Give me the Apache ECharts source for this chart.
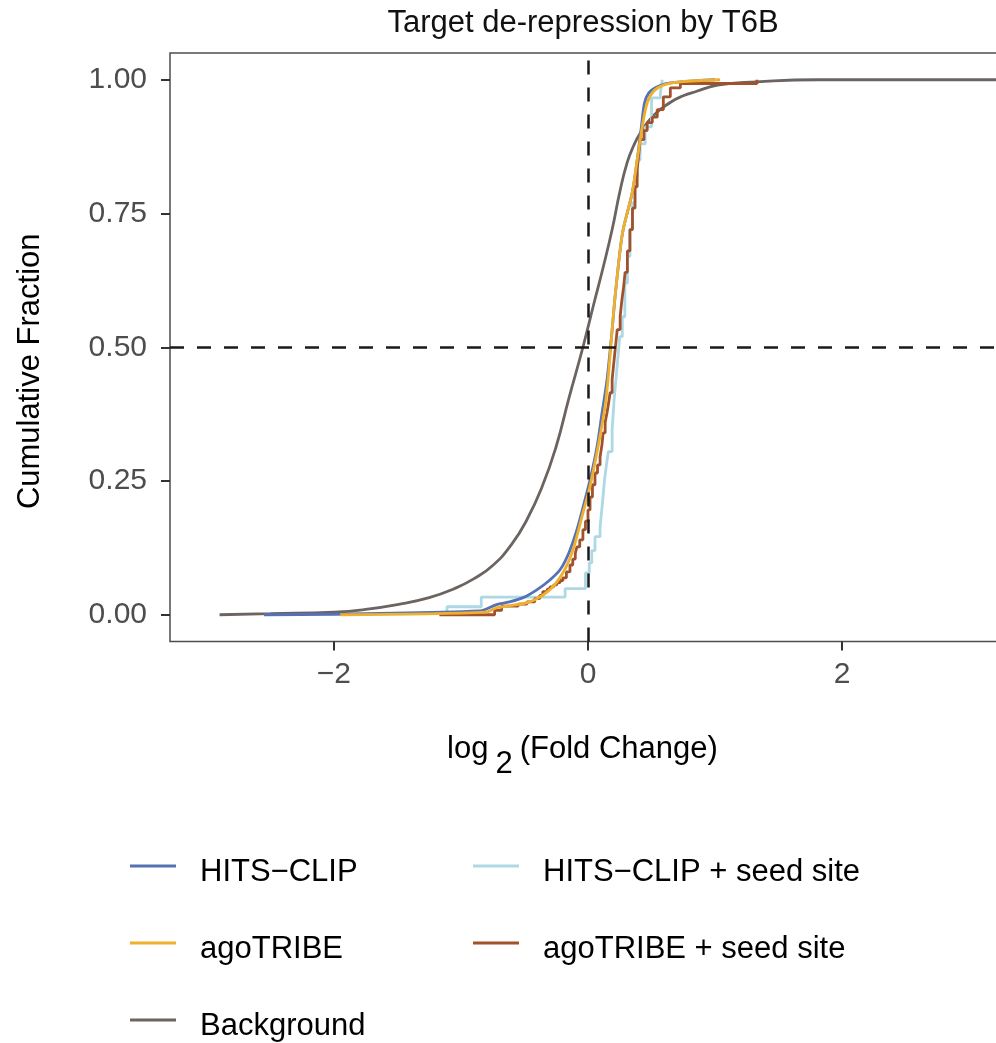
<!DOCTYPE html>
<html>
<head>
<meta charset="utf-8">
<script src="https://cdn.jsdelivr.net/npm/echarts@6/dist/echarts.min.js"></script>
<style>
  html, body { margin: 0; padding: 0; background: #fff; }
  #chart { width: 996px; height: 1043px; }
</style>
</head>
<body>
<div id="chart"></div>
<script>
// ECDF curves: x = log2 fold change, y = cumulative fraction
const hitsClipX = [-2.55, -0.85, -0.72, -0.62, -0.51, -0.40, -0.30, -0.22, -0.15, -0.087, -0.04, 0.016, 0.071, 0.111, 0.15, 0.19, 0.213, 0.253, 0.277, 0.348, 0.387, 0.42, 0.445, 0.48, 0.53, 0.60, 0.727, 1.0];
const hitsClipY = [0, 0.007, 0.019, 0.024, 0.032, 0.047, 0.065, 0.084, 0.116, 0.159, 0.20, 0.252, 0.314, 0.378, 0.44, 0.533, 0.594, 0.682, 0.72, 0.789, 0.85, 0.912, 0.957, 0.976, 0.985, 0.992, 0.996, 1.0];

const agoTribeX = [-1.95, -0.80, -0.72, -0.46, -0.30, -0.198, -0.12, -0.04, 0.016, 0.079, 0.134, 0.158, 0.19, 0.213, 0.253, 0.277, 0.348, 0.387, 0.427, 0.466, 0.514, 0.593, 0.727, 1.04];
const agoTribeY = [0, 0.005, 0.013, 0.024, 0.047, 0.078, 0.12, 0.19, 0.24, 0.314, 0.389, 0.44, 0.533, 0.594, 0.682, 0.72, 0.789, 0.85, 0.912, 0.957, 0.978, 0.99, 0.996, 1.0];

const backgroundX = [-2.9, -2.5, -2.0, -1.75, -1.5, -1.25, -1.05, -0.9, -0.75, -0.6, -0.48, -0.36, -0.25, -0.15, -0.04, 0.05, 0.12, 0.19, 0.25, 0.308, 0.36, 0.411, 0.51, 0.65, 0.75, 0.85, 1.02, 1.33, 1.8, 3.4];
const backgroundY = [0, 0.002, 0.005, 0.010, 0.019, 0.032, 0.049, 0.067, 0.092, 0.132, 0.178, 0.240, 0.315, 0.405, 0.50, 0.585, 0.65, 0.72, 0.79, 0.845, 0.877, 0.90, 0.932, 0.958, 0.97, 0.978, 0.99, 0.996, 1.0, 1.0];

const hitsSeedX = [-1.11, -1.11, -0.84, -0.18, -0.02, 0.01, 0.03, 0.055, 0.095, 0.11, 0.12, 0.13, 0.145, 0.16, 0.19, 0.205, 0.22, 0.235, 0.25, 0.27, 0.29, 0.31, 0.33, 0.35, 0.37, 0.39, 0.41, 0.45, 0.50, 0.57, 0.585];
const hitsSeedY = [0, 0.015, 0.033, 0.049, 0.078, 0.097, 0.12, 0.146, 0.164, 0.20, 0.225, 0.252, 0.28, 0.305, 0.346, 0.40, 0.44, 0.48, 0.52, 0.557, 0.62, 0.67, 0.72, 0.77, 0.82, 0.85, 0.88, 0.912, 0.966, 0.976, 1.0];

const tribeSeedX = [-1.17, -0.735, -0.68, -0.55, -0.48, -0.42, -0.38, -0.356, -0.32, -0.30, -0.27, -0.245, -0.22, -0.198, -0.17, -0.142, -0.12, -0.10, -0.087, -0.065, -0.04, -0.02, 0.0, 0.016, 0.035, 0.055, 0.075, 0.095, 0.11, 0.119, 0.135, 0.15, 0.163, 0.174, 0.19, 0.205, 0.218, 0.23, 0.253, 0.265, 0.28, 0.292, 0.31, 0.33, 0.35, 0.37, 0.387, 0.40, 0.411, 0.44, 0.466, 0.506, 0.545, 0.593, 0.648, 0.727, 1.33];
const tribeSeedY = [0, 0.008, 0.016, 0.020, 0.024, 0.030, 0.036, 0.043, 0.048, 0.052, 0.056, 0.060, 0.064, 0.069, 0.080, 0.093, 0.104, 0.115, 0.127, 0.140, 0.159, 0.175, 0.196, 0.22, 0.243, 0.265, 0.28, 0.295, 0.318, 0.34, 0.36, 0.378, 0.397, 0.415, 0.44, 0.475, 0.505, 0.533, 0.557, 0.585, 0.612, 0.64, 0.68, 0.72, 0.76, 0.80, 0.832, 0.862, 0.888, 0.905, 0.92, 0.93, 0.944, 0.968, 0.985, 0.993, 1.0];

const xTicks = [-2, 0, 2];
const yTicks = [0, 0.25, 0.5, 0.75, 1];

const MINUS = '\u2212';
const FONT = 'Liberation Sans, Arial, Helvetica, sans-serif';

function pts(xs, ys) {
    return xs.map((x, i) => [x, ys[i]]);
}

const chart = echarts.init(document.getElementById('chart'), null, { renderer: 'canvas' });

const lineBase = { type: 'line', showSymbol: false, symbol: 'none', silent: true, animation: false };

function legendBlock(names, left) {
    return {
        data: names,
        orient: 'vertical', left: left, top: 844, padding: 0,
        itemWidth: 46, itemHeight: 3, itemGap: 33, icon: 'rect',
        selectedMode: false,
        formatter: '{t|{name}}',
        textStyle: {
            rich: { t: { fontFamily: FONT, fontSize: 31, color: '#000', lineHeight: 30, padding: [13, 0, 0, 19] } }
        }
    };
}

chart.setOption({
    backgroundColor: '#fff',
    animation: false,
    title: {
        text: 'Target de-repression by T6B',
        left: 583,
        top: 8,
        textAlign: 'center',
        padding: 0,
        textStyle: { fontFamily: FONT, fontSize: 31, fontWeight: 'normal', color: '#111' }
    },
    grid: {
        left: 170, top: 53, width: 836, height: 588.5,
        show: true, borderColor: '#4d4d4d', borderWidth: 1.5,
        containLabel: false, outerBoundsMode: 'none'
    },
    legend: [
        legendBlock(['HITS' + MINUS + 'CLIP', 'agoTRIBE', 'Background'], 130),
        legendBlock(['HITS' + MINUS + 'CLIP + seed site', 'agoTRIBE + seed site'], 473)
    ],
    xAxis: {
        type: 'value', min: -3.29, max: 3.29,
        name: '{n|log}{s|2}{e|(Fold Change)}',
        nameLocation: 'middle', nameGap: 92,
        nameTextStyle: {
            rich: {
                n: { fontFamily: FONT, fontSize: 31, color: '#000', verticalAlign: 'top', lineHeight: 30 },
                s: { fontFamily: FONT, fontSize: 31, color: '#000', verticalAlign: 'top', lineHeight: 30, padding: [15, 7, 0, 7] },
                e: { fontFamily: FONT, fontSize: 31, color: '#000', verticalAlign: 'top', lineHeight: 30, padding: [0, 11, 0, 0] }
            }
        },
        axisLine: { show: false, onZero: false },
        splitLine: { show: false },
        axisTick: { show: true, length: 9, customValues: xTicks, lineStyle: { color: '#333', width: 2 } },
        axisLabel: {
            customValues: xTicks, margin: 18,
            fontFamily: FONT, fontSize: 30, color: '#4d4d4d',
            formatter: v => (v < 0 ? MINUS + Math.abs(v) : String(v))
        }
    },
    yAxis: {
        type: 'value', min: -0.05, max: 1.05,
        name: 'Cumulative Fraction',
        nameLocation: 'middle', nameGap: 124, nameRotate: 90,
        nameTextStyle: { fontFamily: FONT, fontSize: 31, color: '#000', padding: [0, 48, 0, 0] },
        axisLine: { show: false, onZero: false },
        splitLine: { show: false },
        axisTick: { show: true, length: 9, customValues: yTicks, lineStyle: { color: '#333', width: 2 } },
        axisLabel: {
            customValues: yTicks, margin: 23,
            fontFamily: FONT, fontSize: 30, color: '#4d4d4d',
            formatter: v => v.toFixed(2)
        }
    },
    series: [
        Object.assign({}, lineBase, {
            name: 'Background', data: pts(backgroundX, backgroundY),
            smooth: 0.5,
            itemStyle: { color: '#6b6460' }, lineStyle: { width: 2.8, color: '#6b6460' },
            markLine: {
                silent: true, symbol: 'none', animation: false,
                label: { show: false },
                lineStyle: { color: '#1a1a1a', width: 2.5, type: [14, 13] },
                data: [{ xAxis: 0 }, { yAxis: 0.5 }]
            }
        }),
        Object.assign({}, lineBase, {
            name: 'HITS' + MINUS + 'CLIP + seed site', data: pts(hitsSeedX, hitsSeedY), step: 'end',
            itemStyle: { color: '#add8e6' }, lineStyle: { width: 2.8, color: '#add8e6' }
        }),
        Object.assign({}, lineBase, {
            name: 'HITS' + MINUS + 'CLIP', data: pts(hitsClipX, hitsClipY),
            smooth: 0.3,
            itemStyle: { color: '#5572b6' }, lineStyle: { width: 2.8, color: '#5572b6' }
        }),
        Object.assign({}, lineBase, {
            name: 'agoTRIBE + seed site', data: pts(tribeSeedX, tribeSeedY), step: 'end',
            itemStyle: { color: '#a0522d' }, lineStyle: { width: 2.8, color: '#a0522d' }
        }),
        Object.assign({}, lineBase, {
            name: 'agoTRIBE', data: pts(agoTribeX, agoTribeY),
            smooth: 0.3,
            itemStyle: { color: '#efb02e' }, lineStyle: { width: 2.8, color: '#efb02e' }
        })
    ]
});
</script>
</body>
</html>
